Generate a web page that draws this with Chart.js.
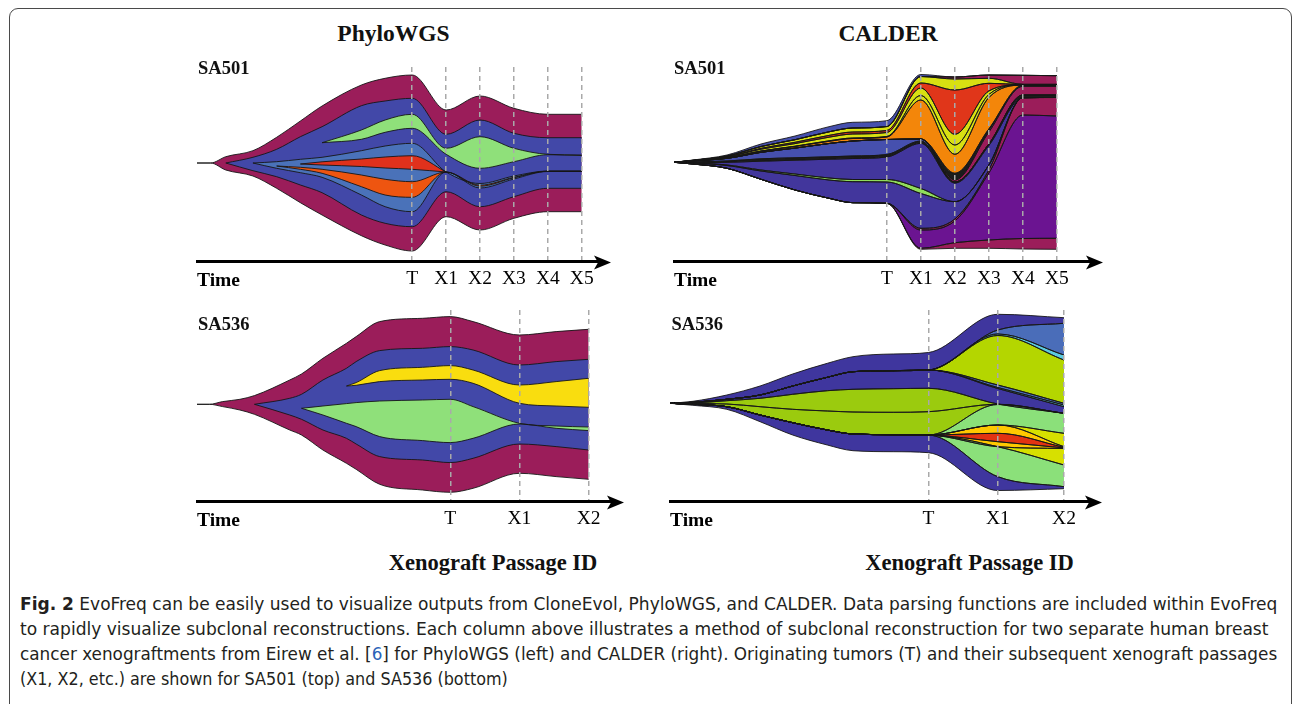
<!DOCTYPE html>
<html>
<head>
<meta charset="utf-8">
<script src="https://cdn.jsdelivr.net/npm/chart.js@4.4.1/dist/chart.umd.min.js"></script>
<style>
  body { margin: 0; width: 1293px; height: 704px; overflow: hidden; background: #fff; position: relative;
         font-family: 'Liberation Serif', 'Times New Roman', serif; }
  .frame { position: absolute; left: 9px; top: 8px; width: 1283px; height: 760px; border: 1px solid #4a4a4a;
           border-radius: 9px; box-sizing: border-box; }
  canvas { position: absolute; }
  .lbl { position: absolute; font-weight: bold; line-height: 1; color: #111; white-space: nowrap; }
  .title { font-size: 23.5px; width: 200px; text-align: center; }
  .sample { font-size: 18.5px; }
  .xeno { font-size: 22.5px; width: 300px; text-align: center; }
  .cap { position: absolute; left: 20px; line-height: 25px; font-size: 18.5px; color: #231f20; white-space: nowrap;
         font-family: 'Liberation Sans Narrow', 'DejaVu Sans', sans-serif; font-stretch: condensed; }
  .cap span.l { display: inline-block; transform-origin: 0 0; }
  .ref { color: #2a62b8; }
</style>
</head>
<body>
<div class="frame"></div>

<canvas id="tl" width="427" height="228" style="left:193px;top:63px"></canvas>
<canvas id="tr" width="442" height="228" style="left:670px;top:63px"></canvas>
<canvas id="bl" width="440" height="225" style="left:193px;top:306px"></canvas>
<canvas id="br" width="445" height="225" style="left:666px;top:306px"></canvas>

<div class="lbl title" style="left:293.5px;top:22px">PhyloWGS</div>
<div class="lbl title" style="left:788px;top:22px">CALDER</div>
<div class="lbl sample" style="left:198px;top:58.5px">SA501</div>
<div class="lbl sample" style="left:674px;top:58.5px">SA501</div>
<div class="lbl sample" style="left:198px;top:314.5px">SA536</div>
<div class="lbl sample" style="left:671.5px;top:315px">SA536</div>
<div class="lbl xeno" style="left:343px;top:552px">Xenograft Passage ID</div>
<div class="lbl xeno" style="left:819.5px;top:552px">Xenograft Passage ID</div>

<div class="cap" style="top:591px"><span class="l" data-w="1257"><b>Fig. 2</b> EvoFreq can be easily used to visualize outputs from CloneEvol, PhyloWGS, and CALDER. Data parsing functions are included within EvoFreq</span></div>
<div class="cap" style="top:616px"><span class="l" data-w="1248">to rapidly visualize subclonal reconstructions. Each column above illustrates a method of subclonal reconstruction for two separate human breast</span></div>
<div class="cap" style="top:641px"><span class="l" data-w="1257">cancer xenograftments from Eirew et al. [<span class="ref">6</span>] for PhyloWGS (left) and CALDER (right). Originating tumors (T) and their subsequent xenograft passages</span></div>
<div class="cap" style="top:666px"><span class="l" data-w="488">(X1, X2, etc.) are shown for SA501 (top) and SA536 (bottom)</span></div>

<script>
// ---- PhyloWGS, SA501 (clone edges, offset from the founding line) ----
const tlTimes = [-6.35, -5.95, -5.5, -4.7, -4.0, -3.3, -2.66, -1.5, -0.8, 0, 1, 2, 3, 4, 5];
const tlTicks = [0, 1, 2, 3, 4, 5];
const tlLabels = ['T', 'X1', 'X2', 'X3', 'X4', 'X5'];
const tlMaroonTop = [0, 0, 6.3, 12.3, 25.7, 42, 57, 78, 84.7, 88, 53, 67, 54.7, 48.7, 48.7];
const tlMaroonBot = [0, 0, -7, -13, -25.3, -39.7, -52, -72.7, -82, -88, -53.7, -67, -55.3, -48.7, -48.7];
const tlBlueTop = [null, null, 0, 5.7, 13.7, 26.3, 36.3, 57.3, 62, 64.7, 28.7, 43, 29.7, 25.3, 25.3];
const tlBlueBot = [null, null, 0, -7.7, -13.7, -22, -29.7, -52, -60.3, -63.7, -28.7, -43.7, -33.7, -25.3, -25.3];
const tlGreenTop = [null, null, null, null, null, null, 20.3, 33, 43, 48.7, 14.7, 26.3, 14.7, 8.7, 8];
const tlGreenBot = [null, null, null, null, null, null, 20.3, 23.7, 30.7, 34.7, 8.7, -5.3, 1.3, 8.3, 7.5];
const tlLightTop = [null, null, null, 0, 1.3, 3.7, 5.7, 12.3, 17, 19.7, -9, -20.5, -13, -8, -8];
const tlLightBot = [null, null, null, 0, -5.3, -9.7, -14.3, -32, -43.7, -48.7, -9, -25, -16, -8.5, -8.5];
const tlRedTop = [null, null, null, null, null, -1, 1.2, 4, 6, 7.3, -9, null, null, null, null];
const tlRedBot = [null, null, null, null, null, -1, -2, -3.5, -5, -6.3, -9, null, null, null, null];
const tlOrangeTop = [null, null, null, null, -3, -4.3, -6.3, -12, -16.3, -18.7, -9, -22.2, -14.3, -8.2, -8.2];
const tlOrangeBot = [null, null, null, null, -3, -6.3, -10.3, -23.7, -32, -34.3, -9, -23.2, -14.8, -8.3, -8.3];

// ---- CALDER, SA501 (stacked layer edges, top to bottom) ----
const trTimes = [-6.26, -5.7, -4.7, -3.7, -2.7, -1.7, -1.0, 0, 1, 2, 3, 4, 5];
const trTicks = [0, 1, 2, 3, 4, 5];
const trLabels = ['T', 'X1', 'X2', 'X3', 'X4', 'X5'];
const trE0 = [0, 2.3, 7.3, 18.3, 26.3, 35.6, 40, 41.6, 87.8, 85.3, 87.3, 87, 86.6];
const trE1 = [0, 2, 6.3, 15.8, 22.6, 30.5, 34.3, 35.8, 85.8, 85.3, 87.3, 87, 86.6];
const trE2 = [0, 2, 6.3, 15.8, 22.6, 30.5, 34.3, 35.8, 85.8, 83.3, 84, 78, 78];
const trE3 = [0, 1.8, 5.6, 14, 20, 26.9, 30.3, 31.8, 79.3, 72.3, 79, 77.8, 77.8];
const trE4 = [0, 1.7, 5.2, 13.1, 18.7, 25.1, 28.3, 29.8, 74.3, 28, 71.3, 77.6, 77.6];
const trE5 = [0, 1.5, 4.5, 11.3, 16.1, 21.5, 24.3, 25.8, 66.8, 17.3, 67.8, 77.4, 77.4];
const trE6 = [0, 1.5, 4.4, 11.1, 15.8, 21, 23.8, 25.3, 62.3, 8, 64.8, 77.2, 77.2];
const trE7 = [0, 1.4, 3.95, 10, 14.2, 18.8, 21.3, 22.8, 23.3, -11, 33.3, 77, 77];
const trE8 = [0, 1.4, 3.95, 10, 14.2, 18.8, 21.3, 22.8, 23.3, -17.7, 30.3, 76, 76];
const trE9 = [0, 1.4, 3.95, 10, 14.2, 18.8, 21.3, 22.8, 23.3, -19.7, 18.3, 67.3, 67.3];
const trE10 = [0, 0.5, 1.3, 3.5, 4.5, 5.5, 6.3, 7.8, 21.3, -19.7, 18.3, 67.3, 67.3];
const trE11 = [0, -0.3, 0, 1.1, 2.1, 3.1, 3.8, 5.3, 19, -20.7, 16.8, 64.6, 64.8];
const trE12 = [0, -0.7, -2.7, -7.7, -11.7, -15.7, -17.2, -17.2, -26.2, -39.4, -2.7, 64.6, 64.8];
const trE13 = [0, -0.7, -3.2, -8.7, -13.2, -17.7, -19.4, -19.7, -31.2, -39.4, -2.7, 64.6, 64.8];
const trE14 = [0, -1.7, -6, -17, -27.7, -36, -40.4, -41, -66, -56.7, -7.7, 64.6, 64.8];
const trE15 = [0, -1.7, -6, -17, -27.7, -36, -40.4, -41, -67.7, -58.7, -10.7, 47.3, 46.3];
const trE16 = [0, -1.7, -6, -17, -27.7, -36, -40.4, -41, -86, -80.4, -77.7, -76.2, -76];
const trE17 = [0, -1.7, -6, -17, -27.7, -36, -40.4, -41, -87, -86, -86, -86.7, -87];

// ---- PhyloWGS, SA536 ----
const blTimes = [-3.66, -3.48, -3.29, -3.04, -2.83, -2.32, -2.15, -1.84, -1.5, -1.36, -1.02, -0.4, 0, 0.33, 1, 1.53, 2];
const blTicks = [0, 1, 2];
const blLabels = ['T', 'X1', 'X2'];
const blMaroonTop = [0, 0, 2.7, 5, 8.7, 24.3, 30.3, 46, 61, 67.7, 82.7, 86, 87.7, 82.7, 69.3, 72.7, 75];
const blMaroonBot = [0, 0, -2.3, -5.7, -10, -25.7, -30.7, -45.7, -59, -65, -80, -85.7, -88, -84, -69, -72.3, -75];
const blBlueTop = [null, null, null, null, 0, 6, 10, 24.3, 36, 42.7, 53.7, 56, 57.7, 54.3, 39.3, 42.7, 45];
const blBlueBot = [null, null, null, null, 0, -10.7, -15, -25.7, -34, -39.7, -52.3, -55.7, -58.3, -54, -39.7, -42.3, -45.7];
const blYellowTop = [null, null, null, null, null, null, null, null, 18.3, 21.7, 33.7, 37, 38.7, 34.3, 19.3, 22.7, 26];
const blYellowBot = [null, null, null, null, null, null, null, null, 18.3, 19, 22.7, 24.3, 25, 21, 1, -1.7, -3];
const blGreenTop = [null, null, null, null, null, null, -4, -1.7, 0.7, 1.7, 3.3, 4.3, 5, -2.3, -19, -21.7, -22.7];
const blGreenBot = [null, null, null, null, null, null, -4, -10.7, -19, -22.3, -32.3, -36.3, -38.3, -34, -19.7, -24, -26.3];

// ---- CALDER, SA536 (stacked layer edges, top to bottom) ----
const brTimes = [-3.73, -3.4, -2.91, -2.43, -1.96, -1.46, -1.09, -0.51, 0, 1, 1.955];
const brTicks = [0, 1, 1.955];
const brLabels = ['T', 'X1', 'X2'];
const brE0 = [0, 2, 8.3, 17.3, 29.3, 40, 46.6, 49.3, 50.8, 89, 85.6];
const brE1 = [0, 1, 4, 8.3, 17.3, 26, 31.6, 32.6, 33.3, 73.3, 80];
const brE2 = [0, 1, 4, 8.3, 17.3, 26, 31.6, 32.6, 33.3, 69.3, 48.3];
const brE3 = [0, 1, 4, 8.3, 17.3, 26, 31.6, 32.6, 33.3, 67.8, 43.3];
const brE4 = [0, 1, 4, 8.3, 17.3, 26, 31.6, 32.6, 33.3, 18.3, 0];
const brE5 = [0, 1, 4, 8.3, 17.3, 26, 31.6, 32.6, 33.3, 15.8, -1.7];
const brE6 = [0, 1, 4, 8.3, 17.3, 26, 31.6, 32.6, 33.3, 14.8, -3.4];
const brE7 = [0, 0.3, 2.6, 5, 9, 12.6, 14, 14.6, 15, -0.7, -10];
const brE8 = [0, -0.2, -0.7, -3.4, -6, -7.7, -8.7, -9, -8.4, -1, -10];
const brE9 = [0, -1, -3.4, -11.7, -19.4, -26.7, -30.7, -31.4, -31.7, -1.2, -10];
const brE10 = [0, -1, -3.4, -11.7, -19.4, -26.7, -30.7, -31.4, -31.7, -21.7, -30];
const brE11 = [0, -1, -3.4, -11.7, -19.4, -26.7, -30.7, -31.4, -31.7, -21.7, -43.4];
const brE12 = [0, -1, -3.4, -11.7, -19.4, -26.7, -30.7, -31.4, -31.7, -30, -44];
const brE13 = [0, -1, -3.4, -11.7, -19.4, -26.7, -30.7, -31.4, -31.7, -38.4, -44.6];
const brE14 = [0, -1, -3.4, -11.7, -19.4, -26.7, -30.7, -31.4, -31.7, -43.4, -45.2];
const brE15 = [0, -1, -3.4, -11.7, -19.4, -26.7, -30.7, -31.4, -31.7, -43.4, -61.7];
const brE16 = [0, -1, -3.4, -11.7, -19.4, -26.7, -30.7, -31.4, -31.7, -73.4, -83.4];
const brE17 = [0, -2, -6, -18.4, -31.7, -41.7, -47.4, -48.4, -49.4, -87.2, -85.4];

// colours
const MAROON = '#9b1d5a', BLUE = '#4248a8', LIGHTBLUE = '#4a72b9', GREEN = '#8fe07a',
      RED = '#e0311c', ORANGE = '#ee5510', YELLOW = '#f9dd0f';
const C_MBLUE = '#4650ae', C_YEL = '#d8e012', C_RED = '#e0361a', C_ORANGE = '#f3860a', C_DARK = '#1c1c1c',
      C_BIG = '#42369c', C_GREEN = '#90dc5c', C_PURPLE = '#6b1491';
const D_BLUE = '#3f369e', D_MBLUE = '#4a6db9', D_CYAN = '#5ccbe0', D_LIME = '#b4d600', D_LGREEN = '#9bcb0e',
      D_PALE = '#8be07a', D_YEL = '#d7e000', D_GOLD = '#ffc800', D_RED = '#e23312';
const LINE = '#161616';

Chart.defaults.font.family = "'Liberation Serif', 'Times New Roman', serif";

function toPoints(times, values) {
  const pts = [];
  values.forEach((v, i) => { if (v !== null) pts.push({x: times[i], y: v}); });
  return pts;
}

// each band = [top edge, bottom edge, colour]; first band sits underneath
function fishDatasets(times, bands, lineWidth) {
  const sets = [];
  for (let k = bands.length - 1; k >= 0; k--) {
    const [top, bottom, color] = bands[k];
    const base = {borderColor: LINE, borderWidth: lineWidth, pointRadius: 0, cubicInterpolationMode: 'monotone'};
    sets.push(Object.assign({data: toPoints(times, top), fill: false}, base));
    sets.push(Object.assign({data: toPoints(times, bottom), fill: '-1', backgroundColor: color}, base));
  }
  return sets;
}

function stackBands(edges, colors) {
  return colors.map((c, i) => [edges[i], edges[i + 1], c]);
}

// arrow head and the bold "Time" word on the axis
const axisDecor = {
  id: 'axisDecor',
  afterDraw(chart) {
    const {ctx, chartArea: a} = chart;
    const y = chart.scales.x.top + 1.5;
    ctx.save();
    ctx.fillStyle = '#000';
    ctx.beginPath();
    ctx.moveTo(a.right + 13, y);
    ctx.lineTo(a.right - 4, y - 7);
    ctx.lineTo(a.right, y);
    ctx.lineTo(a.right - 4, y + 7);
    ctx.closePath();
    ctx.fill();
    ctx.font = "bold 19.5px 'Liberation Serif', serif";
    ctx.fillText('Time', a.left, y + 23);
    ctx.restore();
  }
};

function drawFish(id, p) {
  new Chart(document.getElementById(id), {
    type: 'line',
    data: {datasets: fishDatasets(p.times, p.bands, p.lineWidth)},
    options: {
      responsive: false,
      animation: false,
      events: [],
      devicePixelRatio: 1,
      layout: {padding: {left: 4, top: 4, right: 22, bottom: 0}},
      plugins: {
        legend: {display: false},
        tooltip: {enabled: false},
        filler: {drawTime: 'beforeDatasetsDraw'}
      },
      scales: {
        x: {
          type: 'linear',
          min: p.xMin, max: p.xMax,
          afterFit: s => { s.height = 30; },
          afterBuildTicks: s => { s.ticks = p.ticks.map(v => ({value: v})); },
          ticks: {autoSkip: false, maxRotation: 0, minRotation: 0, padding: 6, color: '#000',
                  font: {size: 19.5}, callback: (v, i) => p.labels[i]},
          grid: {drawTicks: false, color: '#a9a9a9', lineWidth: 1.5, z: 1},
          border: {display: true, color: '#000', width: 3, dash: [5, 4], z: 2}
        },
        y: {display: false, min: p.yMin, max: p.yMax}
      }
    },
    plugins: [axisDecor]
  });
}

drawFish('tl', {
  times: tlTimes, ticks: tlTicks, labels: tlLabels, xMin: -6.35, xMax: 5.48, yMin: -98, yMax: 96, lineWidth: 0.9,
  bands: [
    [tlMaroonTop, tlMaroonBot, MAROON],
    [tlBlueTop, tlBlueBot, BLUE],
    [tlGreenTop, tlGreenBot, GREEN],
    [tlLightTop, tlLightBot, LIGHTBLUE],
    [tlRedTop, tlRedBot, RED],
    [tlOrangeTop, tlOrangeBot, ORANGE]
  ]
});

drawFish('tr', {
  times: trTimes, ticks: trTicks, labels: trLabels, xMin: -6.26, xMax: 5.975, yMin: -98.7, yMax: 95.3, lineWidth: 0.9,
  bands: stackBands(
    [trE0, trE1, trE2, trE3, trE4, trE5, trE6, trE7, trE8, trE9, trE10, trE11, trE12, trE13, trE14, trE15, trE16, trE17],
    [C_MBLUE, MAROON, C_YEL, C_RED, C_YEL, C_YEL, C_ORANGE, C_DARK, MAROON, C_MBLUE, C_DARK,
     C_BIG, C_GREEN, C_BIG, MAROON, C_PURPLE, MAROON])
});

drawFish('bl', {
  times: blTimes, ticks: blTicks, labels: blLabels, xMin: -3.66, xMax: 2.323, yMin: -96.7, yMax: 94.3, lineWidth: 0.9,
  bands: [
    [blMaroonTop, blMaroonBot, MAROON],
    [blBlueTop, blBlueBot, BLUE],
    [blYellowTop, blYellowBot, YELLOW],
    [blGreenTop, blGreenBot, GREEN]
  ]
});

drawFish('br', {
  times: brTimes, ticks: brTicks, labels: brLabels, xMin: -3.73, xMax: 2.316, yMin: -97.7, yMax: 93.3, lineWidth: 0.9,
  bands: stackBands(
    [brE0, brE1, brE2, brE3, brE4, brE5, brE6, brE7, brE8, brE9, brE10, brE11, brE12, brE13, brE14, brE15, brE16, brE17],
    [D_BLUE, D_MBLUE, D_CYAN, D_LIME, D_MBLUE, D_CYAN, D_BLUE, D_LGREEN, D_LGREEN,
     D_PALE, D_YEL, D_GOLD, D_RED, D_GOLD, D_YEL, D_PALE, D_BLUE])
});

// fit each caption line to the width it has in the figure (offsetWidth ignores transforms)
function fitCaption() {
  document.querySelectorAll('.cap span.l').forEach(s => {
    const w = s.offsetWidth;
    if (w > 0) s.style.transform = 'scaleX(' + (Number(s.dataset.w) / w) + ')';
  });
}
fitCaption();
if (document.fonts && document.fonts.ready) document.fonts.ready.then(fitCaption);
</script>
</body>
</html>
